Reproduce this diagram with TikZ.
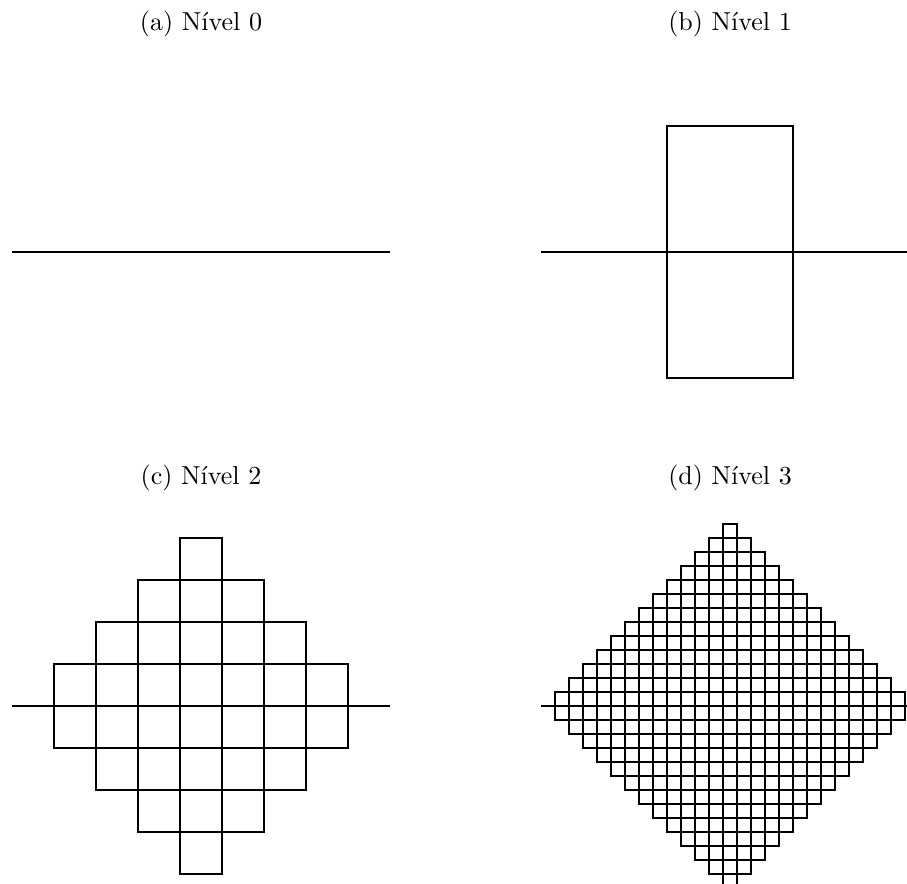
\documentclass[tikz,border=0pt]{standalone}
\usetikzlibrary{lindenmayersystems}
\pgfdeclarelindenmayersystem{Peano}{\rule{F -> F+F-F-F-F+F+F+F-F}}
\begin{document}
\begin{tikzpicture}[x=0.4pt,y=-0.4pt,
  curve/.style={line width=0.8pt},
  lab/.style={font=\fontsize{10.4}{12}\selectfont, anchor=base, inner sep=0pt}]
\useasboundingbox (0,0) rectangle (907,884);
\clip (0,0) rectangle (907,884);
\node[lab] (la) at (201,30.7) {(a) Nível 0};
\node[lab] (lb) at (730,30.7) {(b) Nível 1};
\node[lab] (lc) at (201,484.7) {(c) Nível 2};
\node[lab] (ld) at (730,484.7) {(d) Nível 3};
\coordinate (a0) at (12,252);
\coordinate (a1) at (390,252);
\draw[curve] (a0) -- (a1);
\begin{scope}[shift={(541,252)}]
\draw[curve, lindenmayer system={Peano, axiom=F, order=1, step=50.4pt, angle=90}] lindenmayer system;
\end{scope}
\begin{scope}[shift={(12,706)}]
\draw[curve, lindenmayer system={Peano, axiom=F, order=2, step=16.8pt, angle=90}] lindenmayer system;
\end{scope}
\begin{scope}[shift={(541,706)}]
\draw[curve, lindenmayer system={Peano, axiom=F, order=3, step=5.6pt, angle=90}] lindenmayer system;
\end{scope}
\end{tikzpicture}
\end{document}
